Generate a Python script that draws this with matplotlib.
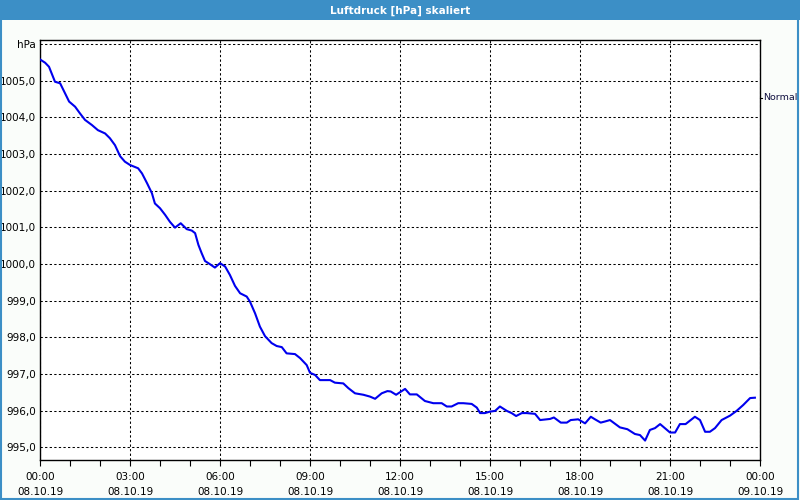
import numpy as np
import matplotlib
matplotlib.use("Agg")
from matplotlib import pyplot as plt
from matplotlib.patches import Rectangle

# hours since 08.10.19 00:00
hours = [
    0.00, 0.17, 0.30, 0.50, 0.67, 0.83, 0.97, 1.17, 1.33, 1.50, 1.73, 1.93,
    2.17, 2.33, 2.50, 2.67, 2.83, 3.00, 3.27, 3.40, 3.57, 3.73, 3.83, 4.00,
    4.17, 4.33, 4.50, 4.69, 4.89, 5.06, 5.17, 5.28, 5.39, 5.50, 5.67, 5.83,
    6.00, 6.17, 6.33, 6.50, 6.67, 6.89, 7.00, 7.17, 7.33, 7.50, 7.72, 7.89,
    8.06, 8.22, 8.50, 8.67, 8.89, 9.00, 9.17, 9.33, 9.67, 9.83, 10.11, 10.28,
    10.50, 10.78, 11.00, 11.17, 11.39, 11.58, 11.69, 11.87, 12.00, 12.17, 12.33, 12.56,
    12.83, 13.11, 13.39, 13.56, 13.72, 13.94, 14.11, 14.39, 14.56, 14.67, 14.83, 15.00,
    15.17, 15.33, 15.56, 15.72, 15.87, 16.06, 16.22, 16.50, 16.67, 17.00, 17.13, 17.36,
    17.56, 17.69, 17.94, 18.17, 18.36, 18.50, 18.69, 18.83, 19.00, 19.33, 19.58, 19.83,
    20.00, 20.17, 20.33, 20.50, 20.67, 20.83, 21.00, 21.17, 21.33, 21.52, 21.83, 22.00,
    22.17, 22.33, 22.50, 22.72, 23.00, 23.22, 23.44, 23.67, 23.83,
]
pressure = [
    1005.58, 1005.49, 1005.38, 1004.97, 1004.93, 1004.66, 1004.43, 1004.29, 1004.11, 1003.93, 1003.79, 1003.65,
    1003.56, 1003.43, 1003.24, 1002.94, 1002.79, 1002.70, 1002.61, 1002.47, 1002.20, 1001.93, 1001.65, 1001.52,
    1001.34, 1001.15, 1000.99, 1001.11, 1000.95, 1000.91, 1000.84, 1000.52, 1000.29, 1000.08, 999.99, 999.90,
    1000.02, 999.93, 999.70, 999.40, 999.20, 999.11, 998.97, 998.65, 998.29, 998.03, 997.84, 997.76,
    997.73, 997.56, 997.54, 997.43, 997.24, 997.03, 996.97, 996.83, 996.83, 996.76, 996.74, 996.61,
    996.47, 996.43, 996.38, 996.32, 996.47, 996.53, 996.52, 996.43, 996.50, 996.59, 996.44, 996.44,
    996.26, 996.20, 996.20, 996.11, 996.11, 996.20, 996.20, 996.18, 996.08, 995.93, 995.93, 995.97,
    995.99, 996.11, 995.99, 995.93, 995.85, 995.93, 995.93, 995.91, 995.74, 995.77, 995.81, 995.67,
    995.67, 995.74, 995.76, 995.65, 995.83, 995.76, 995.67, 995.70, 995.74, 995.54, 995.49, 995.36,
    995.33, 995.18, 995.47, 995.52, 995.63, 995.52, 995.40, 995.40, 995.63, 995.63, 995.83, 995.74,
    995.42, 995.42, 995.52, 995.74, 995.86, 995.99, 996.15, 996.34, 996.35,
]

x_ticks = [0, 3, 6, 9, 12, 15, 18, 21, 24]
x_labels = ["00:00\n08.10.19", "03:00\n08.10.19", "06:00\n08.10.19",
            "09:00\n08.10.19", "12:00\n08.10.19", "15:00\n08.10.19",
            "18:00\n08.10.19", "21:00\n08.10.19", "00:00\n09.10.19"]
y_ticks = [995, 996, 997, 998, 999, 1000, 1001, 1002, 1003, 1004, 1005, 1006]
y_labels = ["995,0", "996,0", "997,0", "998,0", "999,0", "1000,0", "1001,0",
            "1002,0", "1003,0", "1004,0", "1005,0", "hPa"]


def main():
    plt.rcParams["font.family"] = ["DejaVu Sans"]
    bg = "#fafdfa"
    frame = "#3c8fc6"

    fig = plt.figure(figsize=(8, 5), dpi=100, facecolor=bg)

    # title bar and outer frame
    fig.patches.append(Rectangle((0, 0.96), 1, 0.04, transform=fig.transFigure,
                                 facecolor=frame, edgecolor="none", zorder=0))
    fig.patches.append(Rectangle((0.001, 0.002), 0.997, 0.996, transform=fig.transFigure,
                                 facecolor="none", edgecolor=frame, linewidth=1.5, zorder=1))
    fig.text(0.5, 0.979, "Luftdruck [hPa] skaliert", color="white", fontsize=7.5,
             fontweight="bold", ha="center", va="center")

    ax = fig.add_axes([0.05, 0.08, 0.90, 0.84])
    ax.set_facecolor("white")
    ax.plot(hours, pressure, color="#0000ee", linewidth=1.5, zorder=3)

    ax.set_xlim(0, 24)
    ax.set_ylim(994.65, 1006.11)
    ax.set_xticks(x_ticks)
    ax.set_xticklabels(x_labels, fontsize=7.5, linespacing=1.6)
    ax.set_xticks(np.arange(0, 25, 1), minor=True)
    ax.set_yticks(y_ticks)
    ax.set_yticklabels(y_labels, fontsize=7.5)
    ax.tick_params(axis="x", which="both", direction="out", length=4, width=0.8, pad=5)
    ax.tick_params(axis="y", length=0, pad=3)

    ax.grid(True, which="major", color="black", linewidth=0.75, linestyle=(0, (2.2, 2.2)))
    for s in ax.spines.values():
        s.set_color("black")
        s.set_linewidth(1.0)

    # series label at right edge
    ax.plot([1.0, 1.003], [0.862, 0.862], transform=ax.transAxes, color="black",
            linewidth=0.8, clip_on=False)
    fig.text(0.9535, 0.804, "Normal", fontsize=6.8, color="#101040", ha="left", va="center")

    fig.savefig("out.png", dpi=100, facecolor=bg)


if __name__ == "__main__":
    main()
